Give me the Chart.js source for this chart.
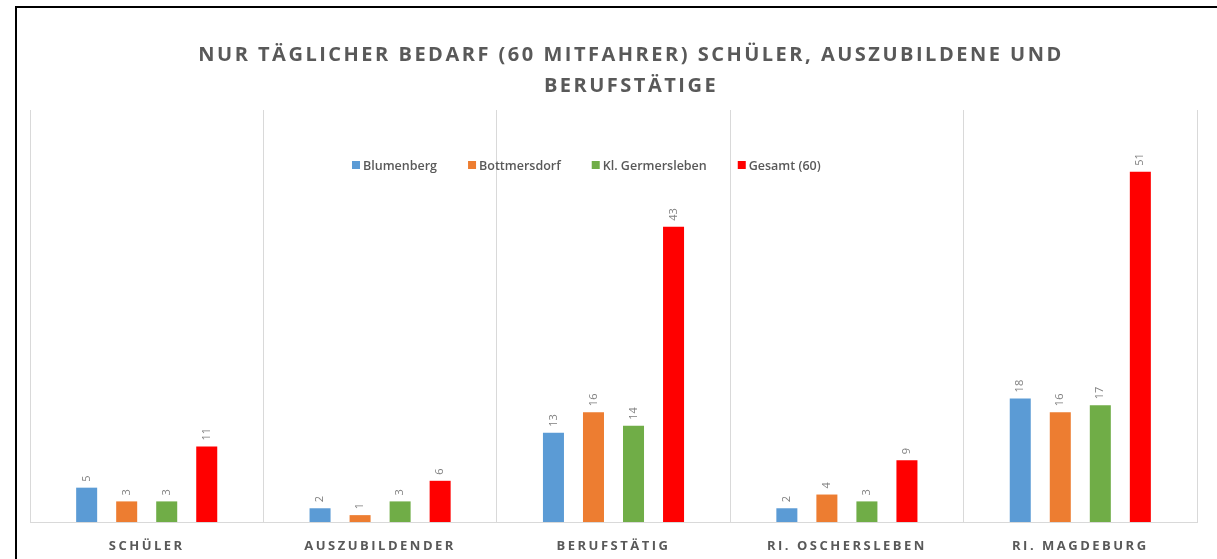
<!DOCTYPE html>
<html>
<head>
<meta charset="utf-8">
<script src="https://cdn.jsdelivr.net/npm/chart.js@4"></script>
<style>
  html, body { margin: 0; padding: 0; background: #fff; overflow: hidden; }
  #frame {
    position: absolute; left: 15px; top: 6px;
    width: 1210px; height: 560px;
    border-top: 2px solid #000; border-left: 2px solid #000;
    background: #fff;
  }
  #chart { display: block; }
</style>
</head>
<body>
<div id="frame"><canvas id="chart" width="1200" height="551"></canvas></div>
<script>
const categories = ["SCHÜLER", "AUSZUBILDENDER", "BERUFSTÄTIG", "RI. OSCHERSLEBEN", "RI. MAGDEBURG"];
const seriesNames = ["Blumenberg", "Bottmersdorf", "Kl. Germersleben", "Gesamt (60)"];
const blumenberg = [5, 2, 13, 2, 18];
const bottmersdorf = [3, 1, 16, 4, 16];
const germersleben = [3, 3, 14, 3, 17];
const gesamt = [11, 6, 43, 9, 51];
const titleLines = ["NUR TÄGLICHER BEDARF (60 MITFAHRER) SCHÜLER, AUSZUBILDENE UND", "BERUFSTÄTIGE"];

const colors = ["#5B9BD5", "#ED7D31", "#70AD47", "#FF0000"];
const textGray = "#595959";
const font = "'Open Sans', 'DejaVu Sans', sans-serif";

// title, legend and value labels are drawn by hand
const extras = {
  id: "extras",
  beforeDraw(chart) {
    chart.ctx.letterSpacing = "2.5px"; // for the x tick labels
  },
  beforeDatasetsDraw(chart) {
    chart.ctx.letterSpacing = "0px";
  },
  afterDatasetsDraw(chart) {
    const ctx = chart.ctx;
    ctx.save();
    ctx.font = "11px " + font;
    ctx.fillStyle = "#7f7f7f";
    ctx.textAlign = "left";
    ctx.textBaseline = "middle";
    chart.data.datasets.forEach((ds, i) => {
      chart.getDatasetMeta(i).data.forEach((bar, j) => {
        ctx.save();
        ctx.translate(bar.x, bar.y - 6);
        ctx.rotate(-Math.PI / 2);
        ctx.fillText(String(ds.data[j]), 0, 0);
        ctx.restore();
      });
    });
    ctx.restore();
  },
  afterDraw(chart) {
    const ctx = chart.ctx;
    ctx.save();
    // title
    ctx.letterSpacing = "2.5px";
    ctx.font = "bold 20px " + font;
    ctx.fillStyle = textGray;
    ctx.textAlign = "center";
    ctx.textBaseline = "middle";
    ctx.fillText(titleLines[0], 614, 47);
    ctx.fillText(titleLines[1], 614, 78);

    // legend
    ctx.letterSpacing = "0px";
    ctx.font = "600 12.5px " + font;
    ctx.textAlign = "left";
    let x = 335;
    const y = 157;
    chart.data.datasets.forEach((ds, i) => {
      ctx.fillStyle = ds.backgroundColor;
      ctx.fillRect(x, y - 4, 8, 8);
      ctx.fillStyle = textGray;
      ctx.fillText(ds.label, x + 11, y + 1);
      x += 11 + ctx.measureText(ds.label).width + 31;
    });
    ctx.restore();
  }
};

const seriesData = [blumenberg, bottmersdorf, germersleben, gesamt];

new Chart(document.getElementById("chart"), {
  type: "bar",
  data: {
    labels: categories,
    datasets: seriesNames.map((name, i) => ({
      label: name,
      data: seriesData[i],
      backgroundColor: colors[i],
      borderWidth: 0,
      categoryPercentage: 0.686,
      barPercentage: 0.525
    }))
  },
  options: {
    responsive: false,
    devicePixelRatio: 1,
    animation: false,
    layout: { padding: { left: 13, right: 20, top: 102, bottom: 0 } },
    plugins: {
      legend: { display: false },
      title: { display: false },
      tooltip: { enabled: false }
    },
    scales: {
      x: {
        grid: { color: "#d9d9d9", drawTicks: false, offset: true },
        border: { color: "#d9d9d9" },
        ticks: {
          color: textGray,
          font: { family: font, size: 13, weight: "bold" },
          padding: 16,
          maxRotation: 0
        },
        afterFit(scale) { scale.height = 37; }
      },
      y: {
        display: false,
        min: 0,
        max: 60
      }
    }
  },
  plugins: [extras]
});
</script>
</body>
</html>
